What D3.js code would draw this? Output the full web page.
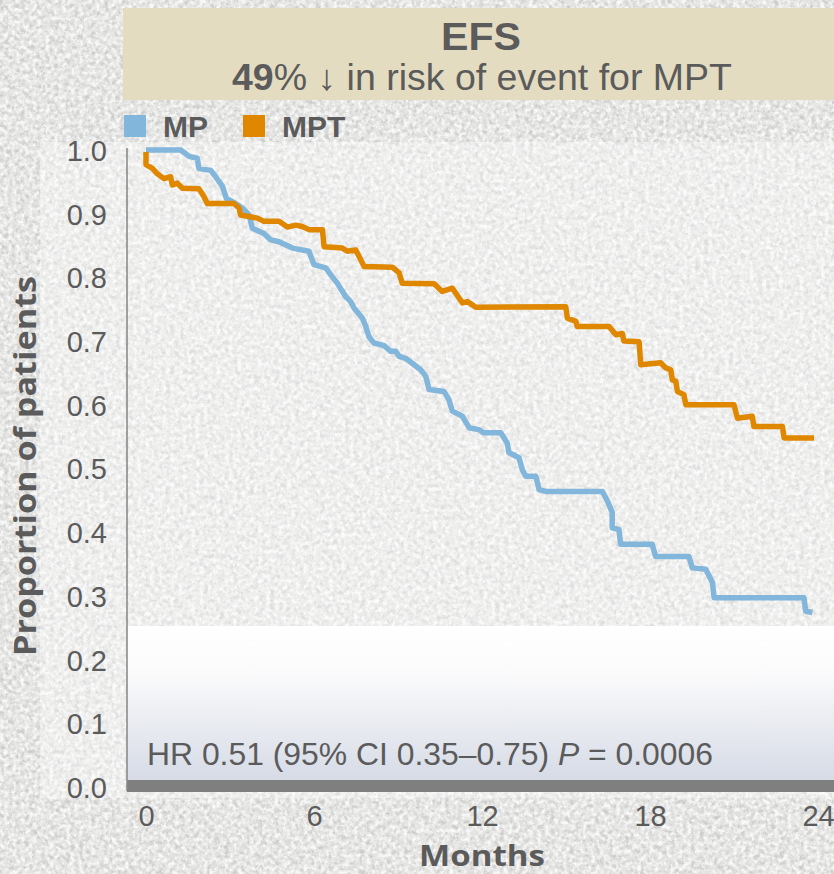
<!DOCTYPE html>
<html>
<head>
<meta charset="utf-8">
<script src="https://cdn.jsdelivr.net/npm/d3@7/dist/d3.min.js"></script>
<style>
  html, body { margin: 0; padding: 0; background: #e9e9e7; }
  svg { display: block; }
</style>
</head>
<body>
<div id="chart"></div>
<script>
// Event-free survival, MP vs MPT (Kaplan–Meier estimates, months 0–24)
const mpMonths = [0, 1.24, 1.54, 1.83, 1.89, 2.31, 2.49, 2.73, 2.87, 3.20, 3.44, 3.68, 3.80, 4.21, 4.45, 4.75,
  5.23, 5.82, 6.00, 6.42, 6.60, 6.83, 7.13, 7.31, 7.43, 7.73, 7.85, 7.96, 8.14, 8.50, 8.74, 8.92, 9.04, 9.27,
  9.81, 9.99, 10.11, 10.64, 10.82, 10.94, 11.30, 11.54, 11.89, 12.07, 12.67, 12.90, 12.96, 13.32, 13.44, 13.56,
  13.92, 14.04, 14.28, 16.30, 16.48, 16.65, 16.65, 16.89, 16.95, 18.08, 18.20, 19.39, 19.51, 19.99, 20.23, 20.29,
  23.50, 23.56, 23.80];
const mpSurv = [1.000, 1.000, 0.990, 0.987, 0.971, 0.968, 0.958, 0.943, 0.924, 0.916, 0.909, 0.898, 0.877, 0.869, 0.859, 0.856,
  0.846, 0.841, 0.820, 0.815, 0.804, 0.791, 0.770, 0.762, 0.752, 0.736, 0.723, 0.707, 0.697, 0.693, 0.684, 0.684, 0.676, 0.673,
  0.655, 0.645, 0.624, 0.621, 0.608, 0.590, 0.582, 0.564, 0.561, 0.556, 0.556, 0.540, 0.525, 0.517, 0.498, 0.488,
  0.488, 0.467, 0.464, 0.464, 0.449, 0.431, 0.407, 0.404, 0.381, 0.381, 0.362, 0.362, 0.344, 0.342, 0.321, 0.297,
  0.297, 0.276, 0.274];

const mptMonths = [0, 0, 0.23, 0.40, 0.64, 0.88, 0.94, 1.12, 1.30, 1.89, 2.07, 2.19, 3.14, 3.32, 3.38, 3.98, 4.21, 4.75,
  5.05, 5.35, 5.58, 5.82, 6.30, 6.36, 7.01, 7.19, 7.49, 7.61, 7.79, 8.80, 9.04, 9.15, 10.29, 10.58, 10.94, 11.30,
  11.48, 11.78, 14.99, 15.05, 15.35, 15.40, 16.54, 16.78, 17.01, 17.07, 17.61, 17.67, 18.38, 18.56, 18.74, 18.80,
  18.92, 18.98, 19.21, 19.28, 21.00, 21.12, 21.65, 21.71, 22.73, 22.79, 23.86];
const mptSurv = [0.997, 0.977, 0.971, 0.963, 0.955, 0.958, 0.945, 0.948, 0.940, 0.939, 0.927, 0.916, 0.916, 0.909, 0.898, 0.893, 0.888, 0.888,
  0.879, 0.882, 0.880, 0.875, 0.875, 0.848, 0.846, 0.841, 0.843, 0.833, 0.817, 0.816, 0.807, 0.791, 0.790, 0.778, 0.783, 0.760,
  0.762, 0.753, 0.754, 0.736, 0.731, 0.723, 0.723, 0.710, 0.712, 0.700, 0.699, 0.663, 0.666, 0.658, 0.655, 0.639,
  0.637, 0.621, 0.616, 0.600, 0.600, 0.579, 0.582, 0.566, 0.566, 0.548, 0.548];

const xTicks = [0, 6, 12, 18, 24];
const yTicks = [0, 0.1, 0.2, 0.3, 0.4, 0.5, 0.6, 0.7, 0.8, 0.9, 1.0];
const seriesNames = ["MP", "MPT"];
const seriesColors = ["#82b6da", "#e08700"];

const W = 834, H = 874;
const textGray = "#5b5b5b";
const sansFont = "'Liberation Sans', Arial, Helvetica, sans-serif";
const humanistFont = "'Open Sans', 'Noto Sans', sans-serif";

const svg = d3.select("#chart").append("svg")
  .attr("width", W).attr("height", H)
  .attr("viewBox", `0 0 ${W} ${H}`);

const defs = svg.append("defs");

// Granite-like paper grain: dark specks and light specks from fractal noise
function grainFilter(id, seed, freq, rgb, k, b) {
  const f = defs.append("filter").attr("id", id)
    .attr("x", 0).attr("y", 0).attr("width", 1).attr("height", 1);
  f.append("feTurbulence").attr("type", "fractalNoise")
    .attr("baseFrequency", freq).attr("numOctaves", 3).attr("seed", seed);
  f.append("feColorMatrix").attr("type", "matrix")
    .attr("values", `0 0 0 0 ${rgb} 0 0 0 0 ${rgb} 0 0 0 0 ${rgb} ${k} 0 0 0 ${b}`);
}
grainFilter("grainDark", 11, 0.2, 0.58, 2.8, -1.1);
grainFilter("grainLight", 29, 0.24, 1.0, 2.8, -1.1);

const panelGrad = defs.append("linearGradient").attr("id", "panelGrad")
  .attr("x1", 0).attr("y1", 0).attr("x2", 0).attr("y2", 1);
panelGrad.append("stop").attr("offset", "0%").attr("stop-color", "#ffffff");
panelGrad.append("stop").attr("offset", "30%").attr("stop-color", "#fbfbfc");
panelGrad.append("stop").attr("offset", "100%").attr("stop-color", "#d6dbe6");

// Background texture
svg.append("rect").attr("width", W).attr("height", H).attr("fill", "#e4e4e2");
svg.append("rect").attr("width", W).attr("height", H).attr("filter", "url(#grainDark)").attr("opacity", 0.85);
svg.append("rect").attr("width", W).attr("height", H).attr("filter", "url(#grainLight)").attr("opacity", 0.85);
// Softer, lighter field behind the plot
svg.append("rect").attr("x", 40).attr("y", 142).attr("width", W - 40).attr("height", 656)
  .attr("fill", "#ffffff").attr("opacity", 0.35);

// Scales
const x = d3.scaleLinear().domain([0, 24]).range([146, 818]);
const y = d3.scaleLinear().domain([0, 1]).range([787, 150]);

const axisX0 = 127;

// Title banner
svg.append("rect").attr("x", 123).attr("y", 8).attr("width", W - 123).attr("height", 92)
  .attr("fill", "#e4dcc1");
svg.append("text").attr("x", 481).attr("y", 50)
  .attr("text-anchor", "middle").attr("font-family", sansFont)
  .attr("font-size", 38).attr("font-weight", "bold").attr("fill", textGray)
  .attr("textLength", 80).attr("lengthAdjust", "spacingAndGlyphs")
  .text("EFS");
const sub = svg.append("text").attr("x", 482).attr("y", 90)
  .attr("text-anchor", "middle").attr("font-family", sansFont)
  .attr("font-size", 36).attr("fill", textGray)
  .attr("textLength", 500).attr("lengthAdjust", "spacingAndGlyphs");
sub.append("tspan").attr("font-weight", "bold").text("49");
sub.append("tspan").text("% \u2193 in risk of event for MPT");

// Legend
const legendX = [124, 243];
seriesNames.forEach((name, i) => {
  svg.append("rect").attr("x", legendX[i]).attr("y", 115).attr("width", 22).attr("height", 22)
    .attr("fill", seriesColors[i]);
  svg.append("text").attr("x", legendX[i] + 39).attr("y", 137)
    .attr("font-family", sansFont).attr("font-size", 30).attr("font-weight", "bold")
    .attr("fill", textGray).text(name);
});

// Statistics panel at the bottom of the plot
svg.append("rect").attr("x", axisX0).attr("y", 626).attr("width", W - axisX0).attr("height", 154)
  .attr("fill", "url(#panelGrad)");
const hr = svg.append("text").attr("x", 147).attr("y", 765)
  .attr("font-family", sansFont).attr("font-size", 31).attr("fill", textGray)
  .attr("textLength", 566).attr("lengthAdjust", "spacingAndGlyphs");
hr.append("tspan").text("HR 0.51 (95% CI 0.35\u20130.75) ");
hr.append("tspan").attr("font-style", "italic").text("P");
hr.append("tspan").text(" = 0.0006");

// X axis bar
svg.append("rect").attr("x", axisX0).attr("y", 780).attr("width", W - axisX0).attr("height", 12)
  .attr("fill", "#7f7f7f");

// Y axis
const yAxis = svg.append("g").attr("transform", `translate(${axisX0},0)`)
  .call(d3.axisLeft(y).tickValues(yTicks).tickFormat(d3.format(".1f")).tickSize(0).tickPadding(20));
yAxis.select(".domain").attr("stroke", "#858585").attr("stroke-width", 1.5)
  .attr("d", `M0,${y(1) - 2}V${y(0) + 4}`);
yAxis.selectAll("text").attr("font-family", sansFont).attr("font-size", 29)
  .attr("fill", textGray).attr("dy", "0.36em");

// X axis
const xAxis = svg.append("g").attr("transform", `translate(0,792)`)
  .call(d3.axisBottom(x).tickValues(xTicks).tickFormat(d3.format("d")).tickSize(0).tickPadding(13));
xAxis.select(".domain").remove();
xAxis.selectAll("text").attr("font-family", sansFont).attr("font-size", 29).attr("fill", textGray);

// Axis titles
svg.append("text").attr("x", 482).attr("y", 866).attr("text-anchor", "middle")
  .attr("font-family", humanistFont).attr("font-size", 29).attr("font-weight", "bold")
  .attr("fill", textGray)
  .attr("textLength", 126).attr("lengthAdjust", "spacingAndGlyphs")
  .text("Months");
svg.append("text").attr("transform", "translate(36,466) rotate(-90)").attr("text-anchor", "middle")
  .attr("font-family", humanistFont).attr("font-size", 30).attr("font-weight", "bold")
  .attr("fill", textGray)
  .attr("textLength", 380).attr("lengthAdjust", "spacingAndGlyphs")
  .text("Proportion of patients");

// Survival curves
const line = d3.line().x(d => x(d[0])).y(d => y(d[1]));
const curves = [d3.zip(mpMonths, mpSurv), d3.zip(mptMonths, mptSurv)];
curves.forEach((pts, i) => {
  svg.append("path").datum(pts)
    .attr("d", line)
    .attr("fill", "none")
    .attr("stroke", seriesColors[i])
    .attr("stroke-width", 5.5)
    .attr("stroke-linejoin", "round")
    .attr("stroke-linecap", "butt");
});
</script>
</body>
</html>
